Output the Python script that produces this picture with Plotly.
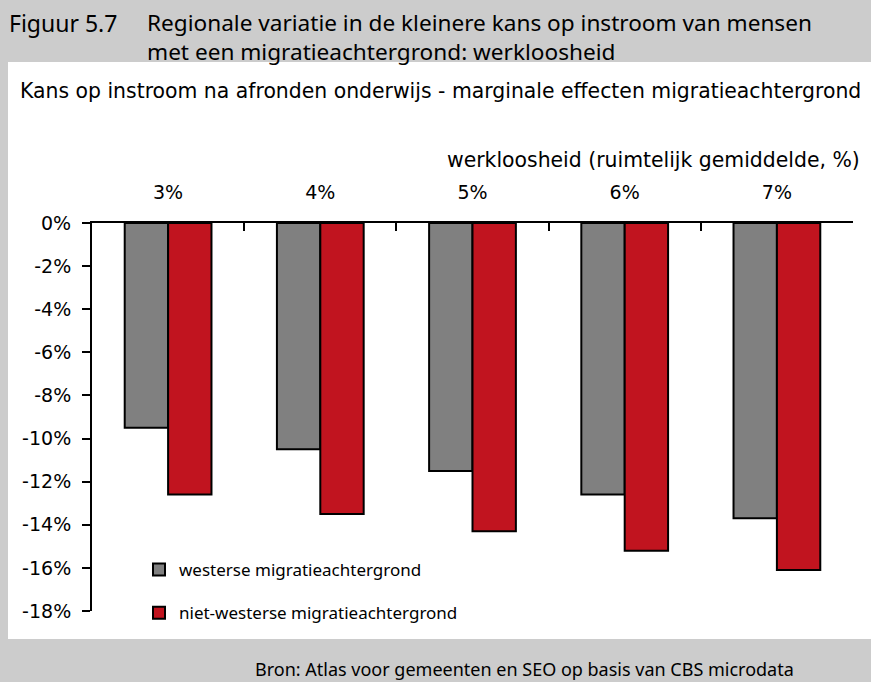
import plotly.graph_objects as go

# Data
categories = ['3%', '4%', '5%', '6%', '7%']
westers = [-9.5, -10.5, -11.5, -12.6, -13.7]
niet_westers = [-12.6, -13.5, -14.3, -15.2, -16.1]
y_ticks = [0, -2, -4, -6, -8, -10, -12, -14, -16, -18]
y_labels = ['0%', '-2%', '-4%', '-6%', '-8%', '-10%', '-12%', '-14%', '-16%', '-18%']

W, H = 871, 682
L, R, T, B = 92, 18, 223, 71
pw, ph = W - L - R, H - T - B

def px(x):
    return (x - L) / pw

def py(y):
    return (H - B - y) / ph

NARROW = 'Noto Sans, sans-serif'
WIDE = 'DejaVu Sans, Verdana, sans-serif'

fig = go.Figure()
fig.add_trace(go.Bar(x=categories, y=westers, name='westerse migratieachtergrond',
                     marker=dict(color='#808080', line=dict(color='black', width=2)),
                     legendgroup='a'))
fig.add_trace(go.Bar(x=categories, y=niet_westers, name='niet-westerse migratieachtergrond',
                     marker=dict(color='#c1141f', line=dict(color='black', width=2)),
                     legendgroup='b'))

fig.update_layout(
    width=W, height=H,
    margin=dict(l=L, r=R, t=T, b=B),
    paper_bgcolor='#cccccc', plot_bgcolor='white',
    barmode='group', bargap=0.43, bargroupgap=0,
    font=dict(family=WIDE, size=19, color='black'),
    showlegend=True,
    legend=dict(x=px(139), y=py(552), xanchor='left', yanchor='top',
                bgcolor='rgba(0,0,0,0)', font=dict(family=NARROW, size=17),
                traceorder='grouped', tracegroupgap=18, itemwidth=30),
    xaxis=dict(side='top', type='category', showline=True, linecolor='black', linewidth=2,
               ticks='inside', ticklen=8, tickwidth=2, tickcolor='black',
               tickson='boundaries', showgrid=False, ticklabelstandoff=14),
    yaxis=dict(range=[-18, 0], tickvals=y_ticks, ticktext=y_labels, showline=True,
               linecolor='black', linewidth=2, ticks='outside', ticklen=8, tickwidth=2,
               tickcolor='black', showgrid=False, zeroline=False, ticklabelstandoff=7),
)

# white panel behind the chart
fig.add_shape(type='rect', xref='paper', yref='paper', x0=px(8), x1=px(880),
              y0=py(639), y1=py(62), fillcolor='white', line=dict(width=0), layer='below')

fig.add_annotation(text='Figuur 5.7', xref='paper', yref='paper', x=px(7), y=py(23),
                   xanchor='left', yanchor='middle', showarrow=False,
                   font=dict(family=NARROW, size=23))
fig.add_annotation(text='Regionale variatie in de kleinere kans op instroom van mensen<br>'
                        'met een migratieachtergrond: werkloosheid',
                   xref='paper', yref='paper', x=px(145), y=py(37), xanchor='left',
                   yanchor='middle', align='left', showarrow=False,
                   font=dict(family=NARROW, size=22.6))
fig.add_annotation(text='Kans op instroom na afronden onderwijs - marginale effecten migratieachtergrond',
                   xref='paper', yref='paper', x=px(18), y=py(91), xanchor='left',
                   yanchor='middle', showarrow=False, font=dict(size=20.4))
fig.add_annotation(text='werkloosheid (ruimtelijk gemiddelde, %)',
                   xref='paper', yref='paper', x=px(862), y=py(160), xanchor='right',
                   yanchor='middle', showarrow=False, font=dict(size=20.4))
fig.add_annotation(text='Bron: Atlas voor gemeenten en SEO op basis van CBS microdata',
                   xref='paper', yref='paper', x=px(253), y=py(669), xanchor='left',
                   yanchor='middle', showarrow=False, font=dict(family=NARROW, size=18))

fig.write_html('out.html', config={'displayModeBar': False},
               post_script="document.body.style.margin='0';")
